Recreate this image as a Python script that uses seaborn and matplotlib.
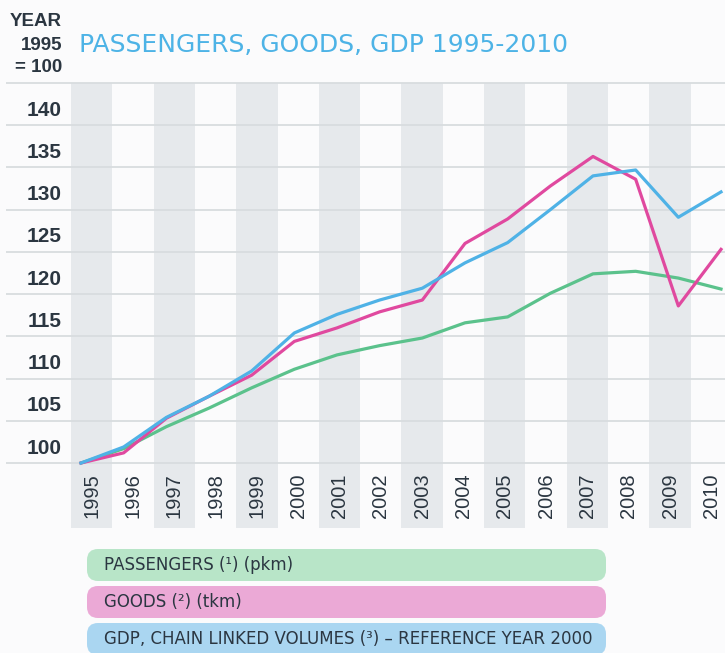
import pandas as pd
import matplotlib
matplotlib.use("Agg")
import matplotlib.pyplot as plt
import matplotlib.transforms as mtransforms
from matplotlib.patches import FancyBboxPatch, Rectangle
import seaborn as sns

# index values, 1995 = 100
years = list(range(1995, 2011))
passengers = [100, 101.7, 104.3, 106.5, 108.9, 111.1, 112.8, 113.9, 114.8, 116.6, 117.3, 120.1, 122.4, 122.7, 121.9, 120.6]
goods = [100, 101.2, 105.3, 107.9, 110.4, 114.4, 116.0, 117.9, 119.3, 126.0, 128.9, 132.8, 136.3, 133.6, 118.6, 125.3]
gdp = [100, 101.9, 105.4, 107.9, 110.9, 115.4, 117.6, 119.3, 120.7, 123.7, 126.1, 130.0, 134.0, 134.7, 129.1, 132.1]

series_names = ["PASSENGERS", "GOODS", "GDP"]
legend_labels = ["PASSENGERS (¹) (pkm)", "GOODS (²) (tkm)",
                 "GDP, CHAIN LINKED VOLUMES (³) – REFERENCE YEAR 2000"]
y_ticks = [100, 105, 110, 115, 120, 125, 130, 135, 140]
grid_levels = [100, 105, 110, 115, 120, 125, 130, 135, 140, 145]
title = "PASSENGERS, GOODS, GDP 1995-2010"
unit_lines = ["YEAR", "1995", "= 100"]

line_colors = {"PASSENGERS": "#5bc28c", "GOODS": "#e0499f", "GDP": "#4fb2e6"}
box_colors = ["#b8e5c8", "#eba9d6", "#aad6f1"]
bg = "#fbfbfc"
band = "#e6e9ec"
grid_col = "#d8dcdf"
text_col = "#2b3641"
lib = ["Liberation Sans", "DejaVu Sans"]

df = pd.DataFrame({
    "year": years * 3,
    "value": passengers + goods + gdp,
    "series": [s for s in series_names for _ in years],
})

W, H = 725, 653
fig = plt.figure(figsize=(W / 100, H / 100), dpi=100, facecolor=bg)

# main plot area: x 71..732 px, y 83..528 px
ax = fig.add_axes([71 / W, (H - 528) / H, 661 / W, 445 / H], facecolor=bg)
px_per_year = 640 / 15
px_per_unit = 380 / 45
ax.set_xlim(1995 - 10 / px_per_year, 2010 + 11 / px_per_year)
ax.set_ylim(100 - 65 / px_per_unit, 145)

n = len(years)
for i in range(n):
    if i % 2 == 0:
        ax.add_patch(Rectangle((i / n, 0), 1 / n, 1, transform=ax.transAxes,
                               color=band, lw=0, zorder=0))

ax.hlines(grid_levels, -65 / 661, 1, transform=ax.get_yaxis_transform(),
          colors=grid_col, lw=1.3, clip_on=False, zorder=1)

sns.lineplot(data=df, x="year", y="value", hue="series", palette=line_colors,
             lw=2.3, legend=False, ax=ax, zorder=3)

for v in y_ticks:
    ax.text(-9 / 661, v + 15 / px_per_unit, str(v), transform=ax.get_yaxis_transform(),
            ha="right", va="center", fontsize=15, fontweight="bold",
            family=lib, color=text_col)

blend = mtransforms.blended_transform_factory(ax.transAxes, ax.transData)
for i, yr in enumerate(years):
    ax.text((i + 0.5) / n, 100 - 33 / px_per_unit, str(yr), transform=blend,
            rotation=90, ha="center", va="center", fontsize=14.5,
            family=lib, color=text_col)

ax.set_axis_off()

# overlay in pixel units for header and legend boxes
ov = fig.add_axes([0, 0, 1, 1])
ov.set_xlim(0, W)
ov.set_ylim(H, 0)
ov.set_axis_off()

for txt, yc in zip(unit_lines, [22, 45, 67]):
    ov.text(62, yc, txt, ha="right", va="center", fontsize=13.5, fontweight="bold",
            family=lib, color=text_col)
ov.text(79, 45, title, ha="left", va="center", fontsize=18, color="#4db3e6")

for k, (lab, col) in enumerate(zip(legend_labels, box_colors)):
    top = 549 + k * 37
    ov.add_patch(FancyBboxPatch((87, top), 519, 32,
                                boxstyle="round,pad=0,rounding_size=11",
                                fc=col, ec="none"))
    ov.text(104, top + 16, lab, ha="left", va="center", fontsize=12, color=text_col)

fig.savefig("out.png", dpi=100, facecolor=bg)
